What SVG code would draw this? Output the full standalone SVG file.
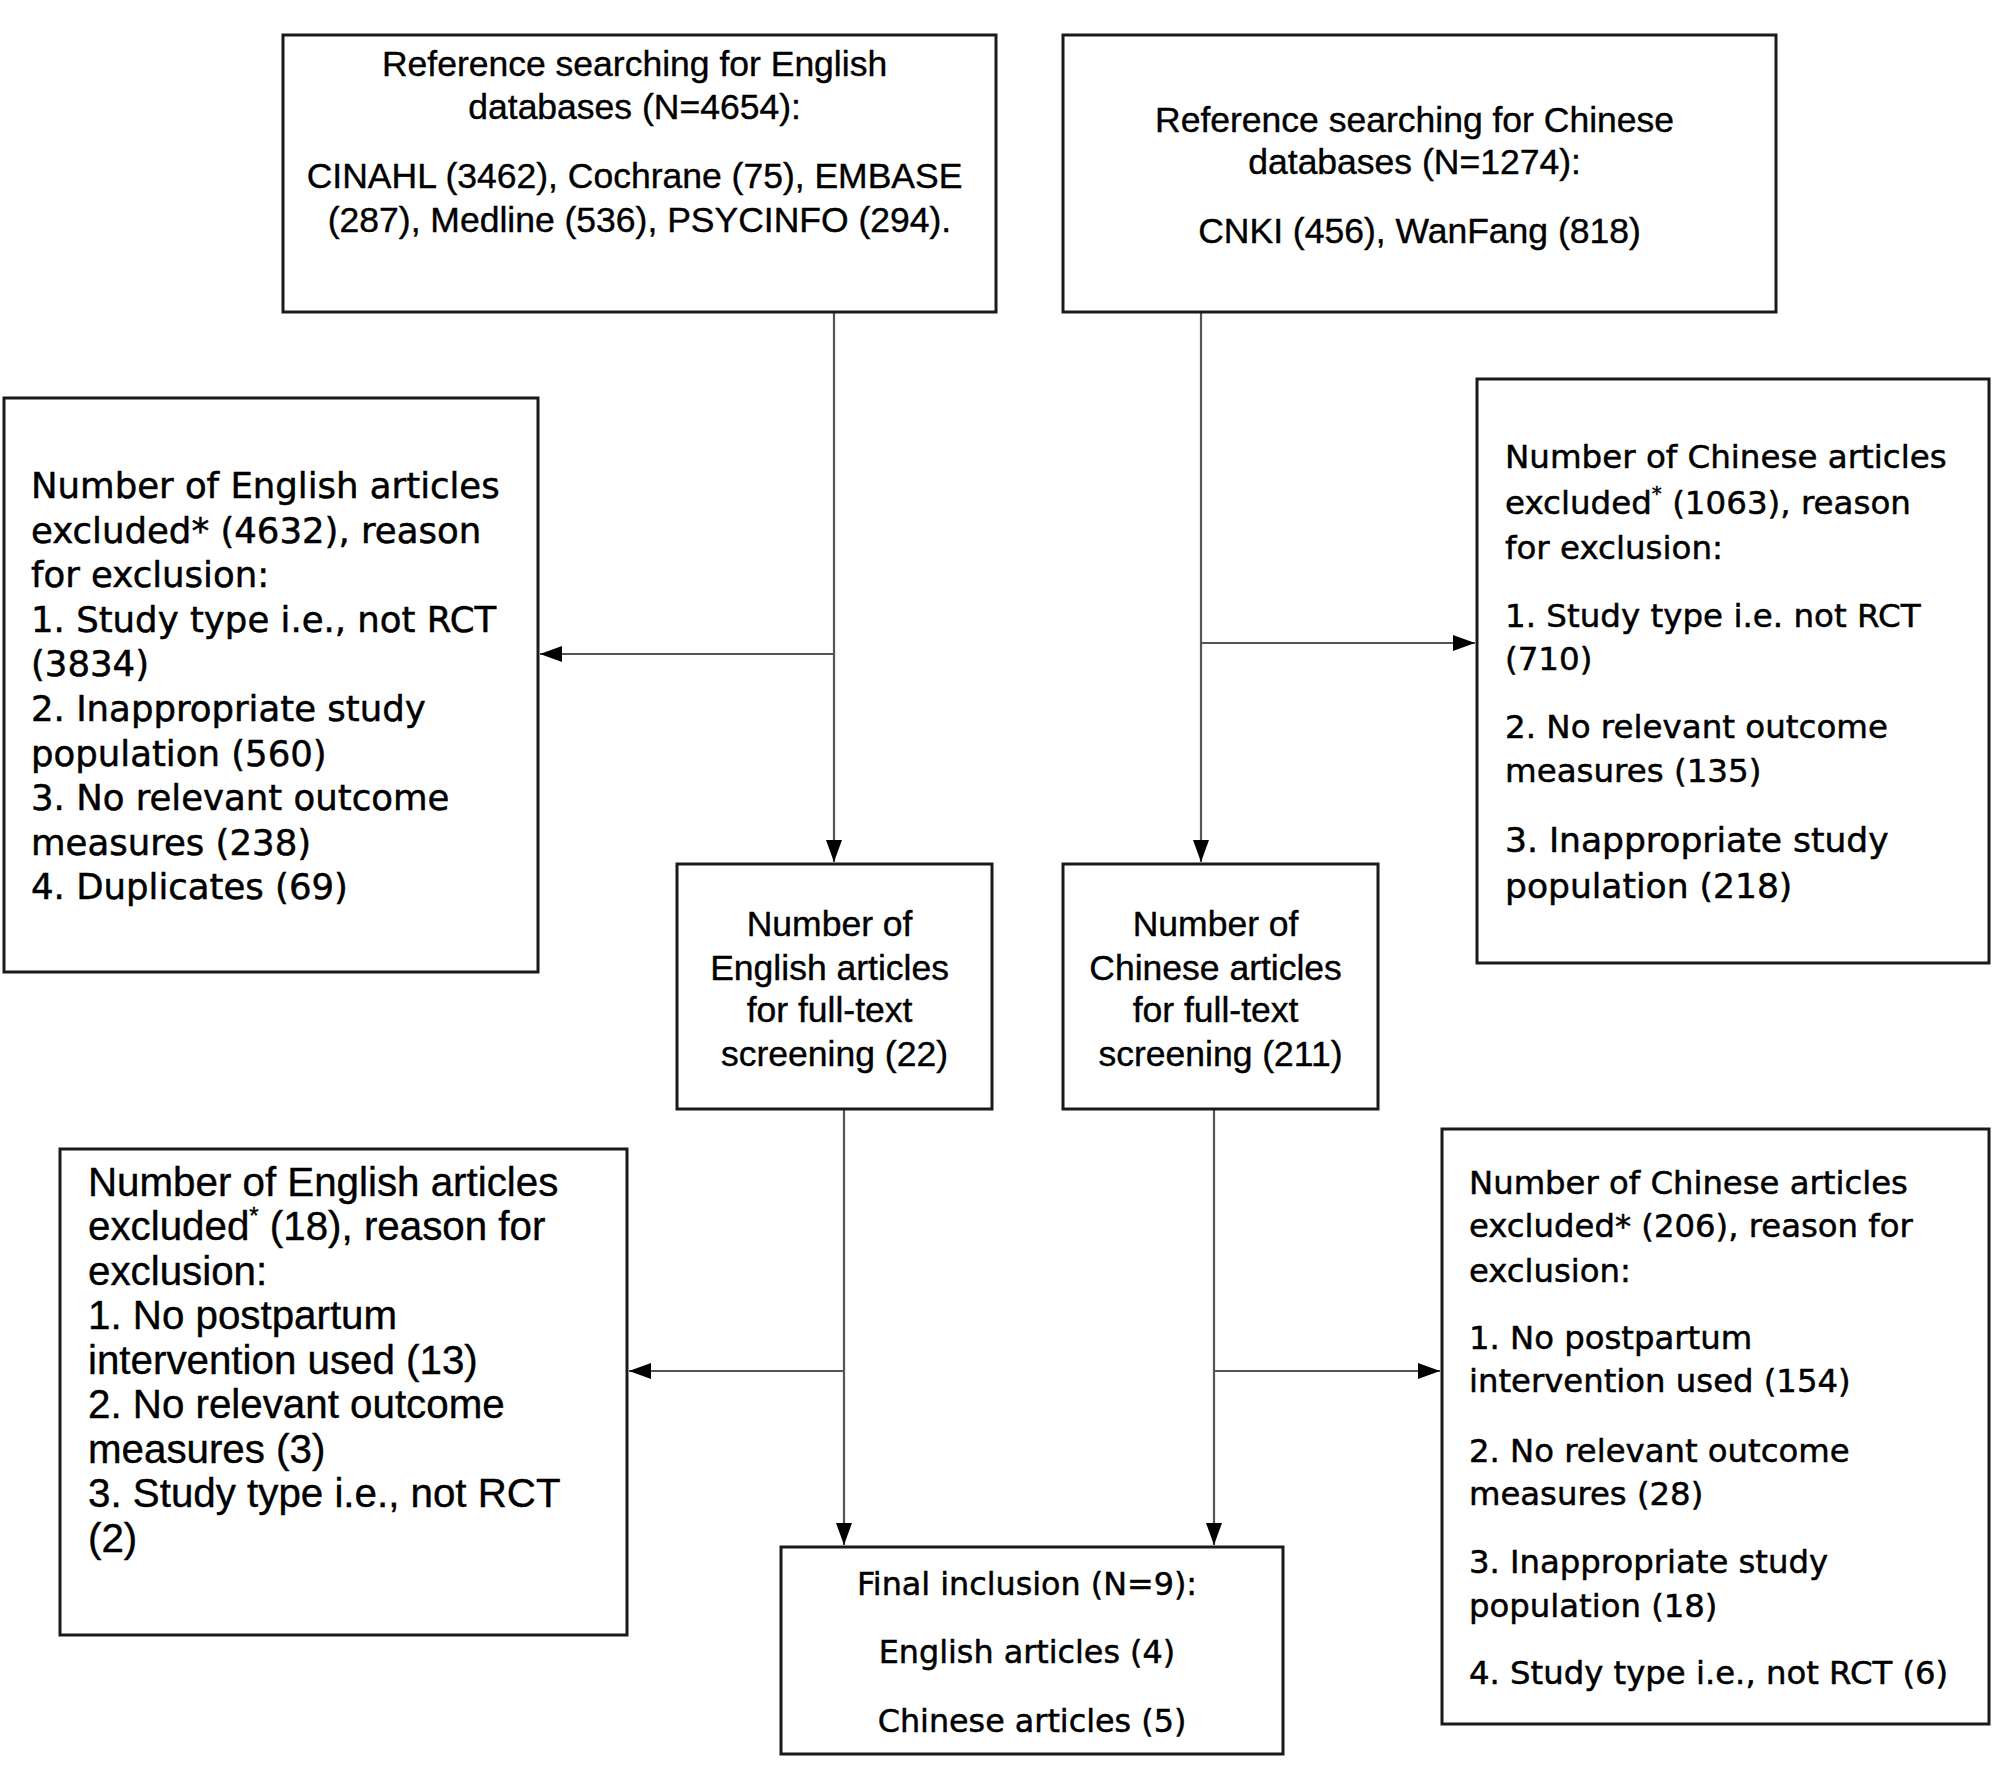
<svg xmlns="http://www.w3.org/2000/svg" width="2008" height="1770" viewBox="0 0 2008 1770">
<defs>
<style>
.box{fill:#fff;stroke:#1a1a1a;stroke-width:3}
.c{font-family:"Liberation Sans",Arial,sans-serif;fill:#000;stroke:#000;stroke-width:0.4}
.v{font-family:"DejaVu Sans",Verdana,sans-serif;fill:#000;stroke:#000;stroke-width:0.5}
.mid{text-anchor:middle}
.edge{fill:none;stroke:#555;stroke-width:2.2}
</style>
<marker id="arr" markerUnits="userSpaceOnUse" markerWidth="24" markerHeight="18" refX="22" refY="8" orient="auto">
<path d="M0,0 L22,8 L0,16 Z" fill="#000"/>
</marker>
</defs>
<rect width="2008" height="1770" fill="#fff"/>

<g id="connectors">
<path class="edge" d="M834,312 V862" marker-end="url(#arr)"/>
<path class="edge" d="M834,654 H540" marker-end="url(#arr)"/>
<path class="edge" d="M1201,312 V862" marker-end="url(#arr)"/>
<path class="edge" d="M1201,643 H1475" marker-end="url(#arr)"/>
<path class="edge" d="M844,1109 V1545" marker-end="url(#arr)"/>
<path class="edge" d="M844,1371 H629" marker-end="url(#arr)"/>
<path class="edge" d="M1214,1109 V1545" marker-end="url(#arr)"/>
<path class="edge" d="M1214,1371 H1440" marker-end="url(#arr)"/>
</g>

<g id="english-search">
<rect class="box" x="283" y="35" width="713" height="277"/>
<text class="c mid" font-size="35.5">
<tspan x="639.5" y="76">Reference searching for English</tspan>
<tspan x="639.5" y="119">databases (N=4654):</tspan>
<tspan x="639.5" y="188">CINAHL (3462), Cochrane (75), EMBASE</tspan>
<tspan x="639.5" y="232">(287), Medline (536), PSYCINFO (294).</tspan>
</text>
</g>

<g id="chinese-search">
<rect class="box" x="1063" y="35" width="713" height="277"/>
<text class="c mid" font-size="35.5">
<tspan x="1419.5" y="132">Reference searching for Chinese</tspan>
<tspan x="1419.5" y="174">databases (N=1274):</tspan>
<tspan x="1419.5" y="243">CNKI (456), WanFang (818)</tspan>
</text>
</g>

<g id="english-excluded-1">
<rect class="box" x="4" y="398" width="534" height="574"/>
<text class="v" font-size="35.5">
<tspan x="31" y="498">Number of English articles</tspan>
<tspan x="31" y="543">excluded*  (4632), reason</tspan>
<tspan x="31" y="587">for exclusion:</tspan>
<tspan x="31" y="632">1. Study type i.e., not RCT</tspan>
<tspan x="31" y="676">(3834)</tspan>
<tspan x="31" y="721">2. Inappropriate study</tspan>
<tspan x="31" y="766">population (560)</tspan>
<tspan x="31" y="810">3. No relevant outcome</tspan>
<tspan x="31" y="855">measures (238)</tspan>
<tspan x="31" y="899">4. Duplicates (69)</tspan>
</text>
</g>

<g id="chinese-excluded-1">
<rect class="box" x="1477" y="379" width="512" height="584"/>
<text class="v" font-size="32.5">
<tspan x="1505" y="468">Number of Chinese articles</tspan>
<tspan x="1505" y="514">excluded<tspan font-size="20" dy="-14">*</tspan><tspan dy="14"> (1063), reason</tspan></tspan>
<tspan x="1505" y="559">for exclusion:</tspan>
<tspan x="1505" y="627">1. Study type i.e. not RCT</tspan>
<tspan x="1505" y="670">(710)</tspan>
<tspan x="1505" y="738">2. No relevant outcome</tspan>
<tspan x="1505" y="782">measures (135)</tspan>
</text>
<text class="v" font-size="34.5">
<tspan x="1505" y="852">3. Inappropriate study</tspan>
<tspan x="1505" y="898">population (218)</tspan>
</text>
</g>

<g id="english-fulltext">
<rect class="box" x="677" y="864" width="315" height="245"/>
<text class="c mid" font-size="35.5">
<tspan x="834.5" y="936">Number of</tspan>
<tspan x="834.5" y="980">English articles</tspan>
<tspan x="834.5" y="1022">for full-text</tspan>
<tspan x="834.5" y="1066">screening (22)</tspan>
</text>
</g>

<g id="chinese-fulltext">
<rect class="box" x="1063" y="864" width="315" height="245"/>
<text class="c mid" font-size="35.5">
<tspan x="1220.5" y="936">Number of</tspan>
<tspan x="1220.5" y="980">Chinese articles</tspan>
<tspan x="1220.5" y="1022">for full-text</tspan>
<tspan x="1220.5" y="1066">screening (211)</tspan>
</text>
</g>

<g id="english-excluded-2">
<rect class="box" x="60" y="1149" width="567" height="486"/>
<text class="c" font-size="40.3">
<tspan x="88" y="1196">Number of English articles</tspan>
<tspan x="88" y="1240">excluded<tspan font-size="24" dy="-16">*</tspan><tspan dy="16"> (18), reason for</tspan></tspan>
<tspan x="88" y="1285">exclusion:</tspan>
<tspan x="88" y="1329">1. No postpartum</tspan>
<tspan x="88" y="1374">intervention used (13)</tspan>
<tspan x="88" y="1418">2. No relevant outcome</tspan>
<tspan x="88" y="1463">measures (3)</tspan>
<tspan x="88" y="1507">3. Study type i.e., not RCT</tspan>
<tspan x="88" y="1552">(2)</tspan>
</text>
</g>

<g id="chinese-excluded-2">
<rect class="box" x="1442" y="1129" width="547" height="595"/>
<text class="v" font-size="32.3">
<tspan x="1469" y="1194">Number of Chinese articles</tspan>
<tspan x="1469" y="1237">excluded* (206), reason for</tspan>
<tspan x="1469" y="1282">exclusion:</tspan>
<tspan x="1469" y="1349">1. No postpartum</tspan>
<tspan x="1469" y="1392">intervention used (154)</tspan>
<tspan x="1469" y="1462">2. No relevant outcome</tspan>
<tspan x="1469" y="1505">measures (28)</tspan>
<tspan x="1469" y="1573">3. Inappropriate study</tspan>
<tspan x="1469" y="1617">population (18)</tspan>
<tspan x="1469" y="1684">4. Study type i.e., not RCT (6)</tspan>
</text>
</g>

<g id="final-inclusion">
<rect class="box" x="781" y="1547" width="502" height="207"/>
<text class="v mid" font-size="31.8">
<tspan x="1032" y="1595">Final inclusion (N=9):</tspan>
<tspan x="1032" y="1663">English articles (4)</tspan>
<tspan x="1032" y="1732">Chinese articles (5)</tspan>
</text>
</g>
</svg>
